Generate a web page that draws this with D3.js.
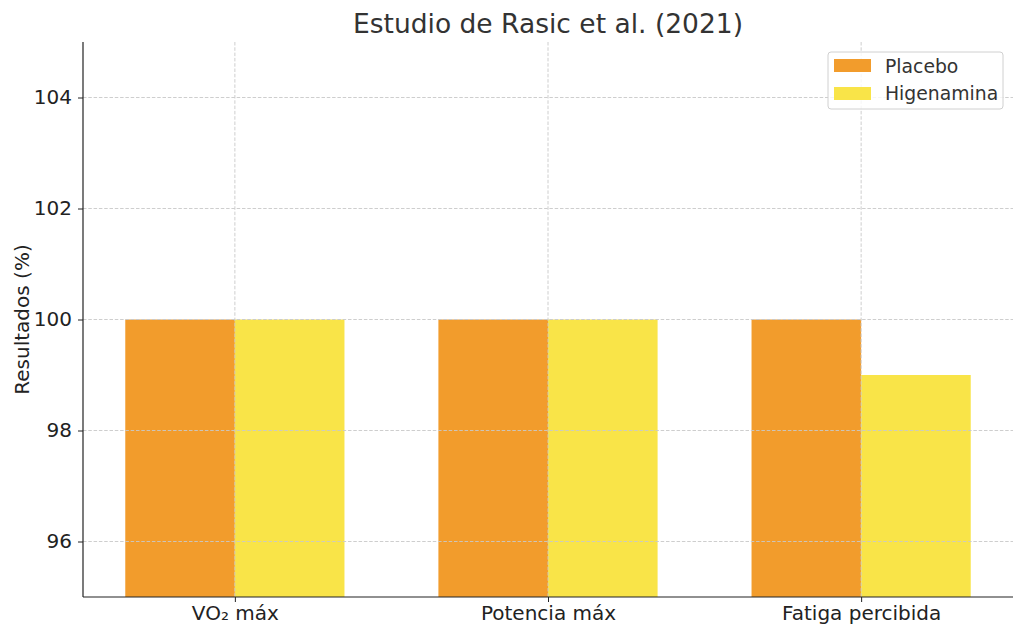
<!DOCTYPE html>
<html><head><meta charset="utf-8">
<script src="https://cdn.jsdelivr.net/npm/d3@7"></script>
<style>body{margin:0;background:#fff}svg{display:block}text{font-family:"DejaVu Sans",sans-serif}</style>
</head><body><svg id="c" width="1024" height="634"></svg>
<script>
const categories = ["VO₂ máx", "Potencia máx", "Fatiga percibida"];
const seriesNames = ["Placebo", "Higenamina"];
const placebo = [100, 100, 100];
const higenamina = [100, 100, 99];
const yTicks = [96, 98, 100, 102, 104];
const colors = ["#f29c2c", "#f9e448"];
const series = [placebo, higenamina];

const svg = d3.select("#c");
const L = 83, R = 1013, T = 42, B = 597;
const x = d3.scaleLinear().domain([-0.485, 2.485]).range([L, R]);
const y = d3.scaleLinear().domain([95, 105]).range([B, T]);
const bw = 0.35;

// bars
series.forEach((s, si) => {
  svg.append("g").selectAll("rect").data(s).join("rect")
    .attr("x", (d, i) => x(i + (si === 0 ? -bw : 0)))
    .attr("width", x(bw) - x(0))
    .attr("y", d => y(d))
    .attr("height", d => y(95) - y(d))
    .attr("fill", colors[si]);
});

// grid
const g = svg.append("g");
g.selectAll("line.h").data(yTicks).join("line")
  .attr("x1", L).attr("x2", R).attr("y1", d => y(d)).attr("y2", d => y(d))
  .attr("stroke", "#c8c8c8").attr("stroke-width", 0.9).attr("stroke-dasharray", "3.5,1.8");
g.selectAll("line.v").data(categories).join("line")
  .attr("x1", (d, i) => x(i)).attr("x2", (d, i) => x(i)).attr("y1", T).attr("y2", B)
  .attr("stroke", "#c8c8c8").attr("stroke-width", 0.9).attr("stroke-dasharray", "3.5,1.8");

// axes
const yAxis = d3.axisLeft(y).tickValues(yTicks).tickSize(5).tickPadding(6);
const ya = svg.append("g").attr("transform", `translate(${L},0)`).call(yAxis);
ya.select(".domain").attr("stroke", "#222").attr("stroke-width", 1.2).attr("d", `M0,${T}V${B}`);
ya.selectAll(".tick line").attr("stroke", "#222");
ya.selectAll(".tick text").attr("font-size", 20).attr("fill", "#222").attr("font-family", "DejaVu Sans");

const xAxis = d3.axisBottom(x).tickValues([0, 1, 2]).tickFormat(i => categories[i]).tickSize(5).tickPadding(4);
const xa = svg.append("g").attr("transform", `translate(0,${B})`).call(xAxis);
xa.select(".domain").attr("stroke", "#222").attr("stroke-width", 1.2).attr("d", `M${L},0H${R}`);
xa.selectAll(".tick line").attr("stroke", "#222");
xa.selectAll(".tick text").attr("font-size", 20).attr("fill", "#222").attr("font-family", "DejaVu Sans");

// title & label
svg.append("text").attr("x", (L + R) / 2).attr("y", 33).attr("text-anchor", "middle")
  .attr("font-size", 26.5).attr("fill", "#333").text("Estudio de Rasic et al. (2021)");
svg.append("text").attr("transform", `translate(29,${(T + B) / 2}) rotate(-90)`).attr("text-anchor", "middle")
  .attr("font-size", 20).attr("fill", "#222").text("Resultados (%)");

// legend
const lg = svg.append("g").attr("transform", "translate(828,52)");
lg.append("rect").attr("width", 175).attr("height", 57).attr("rx", 3)
  .attr("fill", "#fff").attr("fill-opacity", 0.8).attr("stroke", "#d0d0d0");
seriesNames.forEach((n, i) => {
  lg.append("rect").attr("x", 6).attr("y", 7 + i * 28).attr("width", 37).attr("height", 13).attr("fill", colors[i]);
  lg.append("text").attr("x", 57).attr("y", 21 + i * 27).attr("font-size", 18.8).attr("fill", "#333").text(n);
});
</script></body></html>
